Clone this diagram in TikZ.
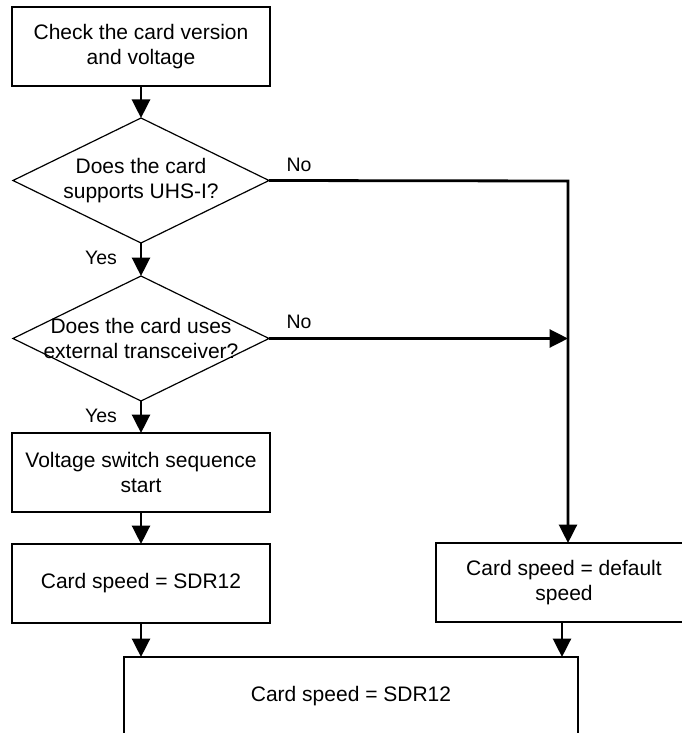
\documentclass[tikz,border=0pt]{standalone}
\usepackage{fontspec}
\setmainfont{Liberation Sans}
\usetikzlibrary{shapes.geometric,arrows.meta}
\begin{document}
\begin{tikzpicture}[x=1pt,y=-1pt,
  every node/.style={font=\fontsize{21}{25.5}\selectfont},
  procbox/.style={draw, line width=1.2pt, rectangle, align=center,
    inner sep=0pt, outer sep=0pt, minimum height=79pt},
  decision/.style={draw, line width=1.2pt, diamond, inner sep=0pt,
    outer sep=0pt, minimum width=256pt, minimum height=125pt},
  qtext/.style={align=center, inner sep=0pt},
  lbl/.style={font=\fontsize{19.5}{23}\selectfont, inner sep=0pt},
  arr/.style={line width=2.8pt, -{Triangle[width=18pt,length=18.5pt]}}
]
\useasboundingbox (0,0) rectangle (682,733);

% left column: checks and steps
\node[procbox, minimum width=258pt] (check) at (141,46.5)
  {Check the card version\\and voltage};
\node[decision] (d1) at (141,180.5) {};
\node[qtext] (d1text) at (d1.center) {Does the card\\supports UHS-I?};
\node[decision] (d2) at (141,338.5) {};
\node[qtext] (d2text) at (d2.center) {Does the card uses\\external transceiver?};
\node[procbox, minimum width=258pt] (volt) at (141,472.5)
  {Voltage switch sequence\\start};
\node[procbox, minimum width=258pt] (sdr) at (141,583.5) {Card speed = SDR12};

% right column and the common final step
\node[procbox, minimum width=256pt] (dflt) at (564,582.5)
  {Card speed = default\\speed};
\node[procbox, minimum width=454pt, minimum height=78pt] (final) at (351,696)
  {Card speed = SDR12};

% branch labels
\node[lbl] (no1) at (299,165) {No};
\node[lbl] (no2) at (299,322) {No};
\node[lbl] (yes1) at (101,258) {Yes};
\node[lbl] (yes2) at (101,416) {Yes};

% connectors
\coordinate (j) at (568,181);
\coordinate (k) at (562,640);
\draw[arr] (check.south) -- (d1.north);
\draw[arr] (d1.south) -- (d2.north);
\draw[arr] (d2.south) -- (volt.north);
\draw[arr] (volt.south) -- (sdr.north);
\draw[arr] (sdr.south) -- (sdr.south |- final.north);
\draw[arr] (d1.east) -- (j) -- (j |- dflt.north);
\draw[arr] (d2.east) -- (d2.east -| j);
\draw[arr] (dflt.south -| k) -- (k |- final.north);
\end{tikzpicture}
\end{document}
